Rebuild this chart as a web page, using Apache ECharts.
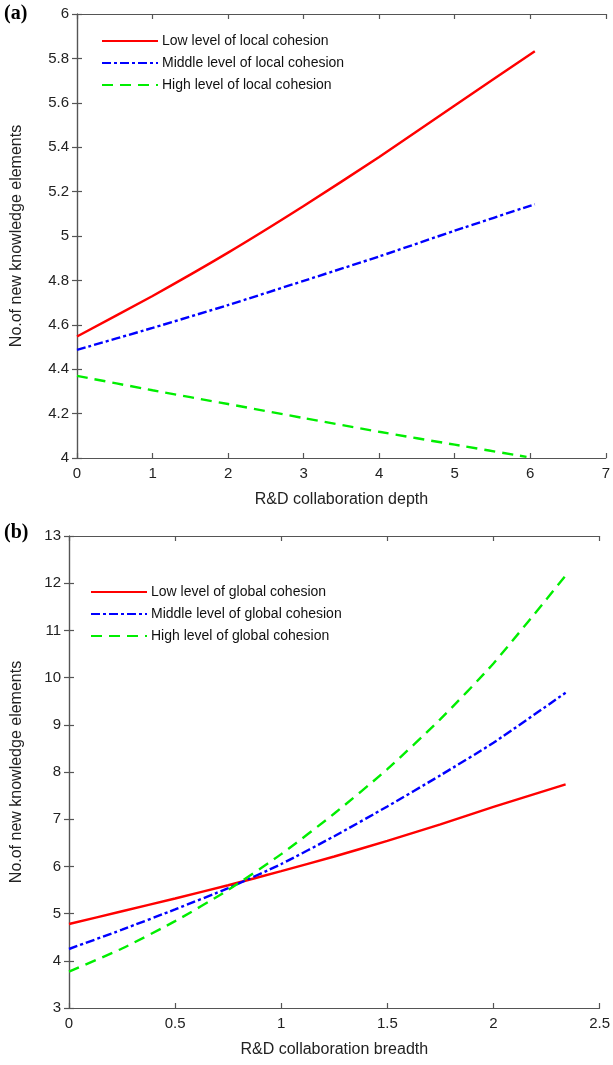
<!DOCTYPE html>
<html>
<head>
<meta charset="utf-8">
<script src="https://cdn.jsdelivr.net/npm/echarts@6/dist/echarts.min.js"></script>
<style>
html,body{margin:0;padding:0;background:#fff;}
#c{width:613px;height:1065px;}
</style>
</head>
<body>
<div id="c"></div>
<script>
// Panel (a)
const depthX = [0, 1, 2, 3, 4, 5, 6.06];
const lowLocal = [4.547, 4.73, 4.925, 5.135, 5.356, 5.588, 5.832];
const midLocal = [4.487, 4.586, 4.689, 4.798, 4.908, 5.024, 5.143];
const highDepthX = [0, 1, 2, 3, 4, 5, 5.95];
const highLocal = [4.37, 4.305, 4.243, 4.18, 4.118, 4.06, 4.005];
// Panel (b)
const breadthX = [0, 0.25, 0.5, 0.75, 1, 1.25, 1.5, 1.75, 2, 2.34];
const lowGlobal = [4.78, 5.05, 5.32, 5.60, 5.90, 6.21, 6.54, 6.89, 7.26, 7.74];
const midGlobal = [4.25, 4.66, 5.09, 5.54, 6.05, 6.64, 7.27, 7.93, 8.62, 9.68];
const highGlobal = [3.77, 4.26, 4.84, 5.50, 6.26, 7.12, 8.06, 9.12, 10.30, 12.16];

const namesA = ['Low level of local cohesion', 'Middle level of local cohesion', 'High level of local cohesion'];
const namesB = ['Low level of global cohesion', 'Middle level of global cohesion', 'High level of global cohesion'];
const yName = 'No.of new knowledge elements';
const xNameA = 'R&D collaboration depth';
const xNameB = 'R&D collaboration breadth';

const zip = (xs, ys) => xs.map((x, i) => [x, ys[i]]);
const FONT = 'Liberation Sans, Arial, sans-serif';
const axisLineStyle = {lineStyle: {color: '#555', width: 1.2}};
const tick = {show: true, inside: true, length: 5, lineStyle: {color: '#555', width: 1.2}};
const lbl = {color: '#222', fontSize: 15, fontFamily: FONT};

const styles = [
  {color: '#ff0000', width: 2.4, type: 'solid'},
  {color: '#0000ff', width: 2.4, type: [9, 3, 3, 3]},
  {color: '#00ee00', width: 2.4, type: [11, 7]}
];

function mkSeries(name, data, idx, si) {
  return {
    name: name, type: 'line', data: data, xAxisIndex: idx * 2, yAxisIndex: idx * 2,
    showSymbol: false, symbol: 'none', smooth: 0.2, animation: false,
    lineStyle: styles[si], itemStyle: {color: styles[si].color}
  };
}

const legendBase = {
  orient: 'vertical', itemWidth: 56, itemHeight: 12, itemGap: 8,
  itemStyle: {opacity: 0},
  textStyle: {fontSize: 14, fontFamily: FONT, color: '#111', padding: [0, 0, 0, -1]}
};

const chart = echarts.init(document.getElementById('c'), null, {renderer: 'canvas'});
chart.setOption({
  backgroundColor: '#fff',
  animation: false,
  graphic: [
    {type: 'text', left: 4, top: 4, style: {text: '(a)', font: 'bold 20px "Liberation Serif", "Times New Roman", serif', fill: '#000'}},
    {type: 'text', left: 4, top: 523, style: {text: '(b)', font: 'bold 20px "Liberation Serif", "Times New Roman", serif', fill: '#000'}}
  ],
  grid: [
    {left: 77, right: 5, top: 14, height: 444},
    {left: 69, right: 11, top: 536, height: 472}
  ],
  legend: [
    Object.assign({data: namesA, left: 96, top: 29}, legendBase),
    Object.assign({data: namesB, left: 85, top: 580}, legendBase)
  ],
  xAxis: [
    {type: 'value', gridIndex: 0, min: 0, max: 7, interval: 1, position: 'bottom',
     name: xNameA, nameLocation: 'middle', nameGap: 34, nameTextStyle: {fontSize: 16, fontFamily: FONT, color: '#222'},
     axisLine: axisLineStyle, axisTick: tick, axisLabel: lbl, splitLine: {show: false}},
    {type: 'value', gridIndex: 0, min: 0, max: 7, interval: 1, position: 'top',
     axisLine: axisLineStyle, axisTick: tick, axisLabel: {show: false}, splitLine: {show: false}},
    {type: 'value', gridIndex: 1, min: 0, max: 2.5, interval: 0.5, position: 'bottom',
     name: xNameB, nameLocation: 'middle', nameGap: 34, nameTextStyle: {fontSize: 16, fontFamily: FONT, color: '#222'},
     axisLine: axisLineStyle, axisTick: tick, axisLabel: lbl, splitLine: {show: false}},
    {type: 'value', gridIndex: 1, min: 0, max: 2.5, interval: 0.5, position: 'top',
     axisLine: axisLineStyle, axisTick: tick, axisLabel: {show: false}, splitLine: {show: false}}
  ],
  yAxis: [
    {type: 'value', gridIndex: 0, min: 4, max: 6, interval: 0.2, position: 'left',
     name: yName, nameLocation: 'middle', nameGap: 52, nameTextStyle: {fontSize: 16, fontFamily: FONT, color: '#222'},
     axisLine: axisLineStyle, axisTick: tick, axisLabel: Object.assign({}, lbl, {formatter: v => String(+v.toFixed(1))}), splitLine: {show: false}},
    {type: 'value', gridIndex: 0, min: 4, max: 6, interval: 0.2, position: 'right',
     axisLine: axisLineStyle, axisTick: tick, axisLabel: {show: false}, splitLine: {show: false}},
    {type: 'value', gridIndex: 1, min: 3, max: 13, interval: 1, position: 'left',
     name: yName, nameLocation: 'middle', nameGap: 44, nameTextStyle: {fontSize: 16, fontFamily: FONT, color: '#222'},
     axisLine: axisLineStyle, axisTick: tick, axisLabel: lbl, splitLine: {show: false}},
    {type: 'value', gridIndex: 1, min: 3, max: 13, interval: 1, position: 'right',
     axisLine: axisLineStyle, axisTick: tick, axisLabel: {show: false}, splitLine: {show: false}}
  ],
  series: [
    mkSeries(namesA[0], zip(depthX, lowLocal), 0, 0),
    mkSeries(namesA[1], zip(depthX, midLocal), 0, 1),
    mkSeries(namesA[2], zip(highDepthX, highLocal), 0, 2),
    mkSeries(namesB[0], zip(breadthX, lowGlobal), 1, 0),
    mkSeries(namesB[1], zip(breadthX, midGlobal), 1, 1),
    mkSeries(namesB[2], zip(breadthX, highGlobal), 1, 2)
  ]
});
</script>
</body>
</html>
